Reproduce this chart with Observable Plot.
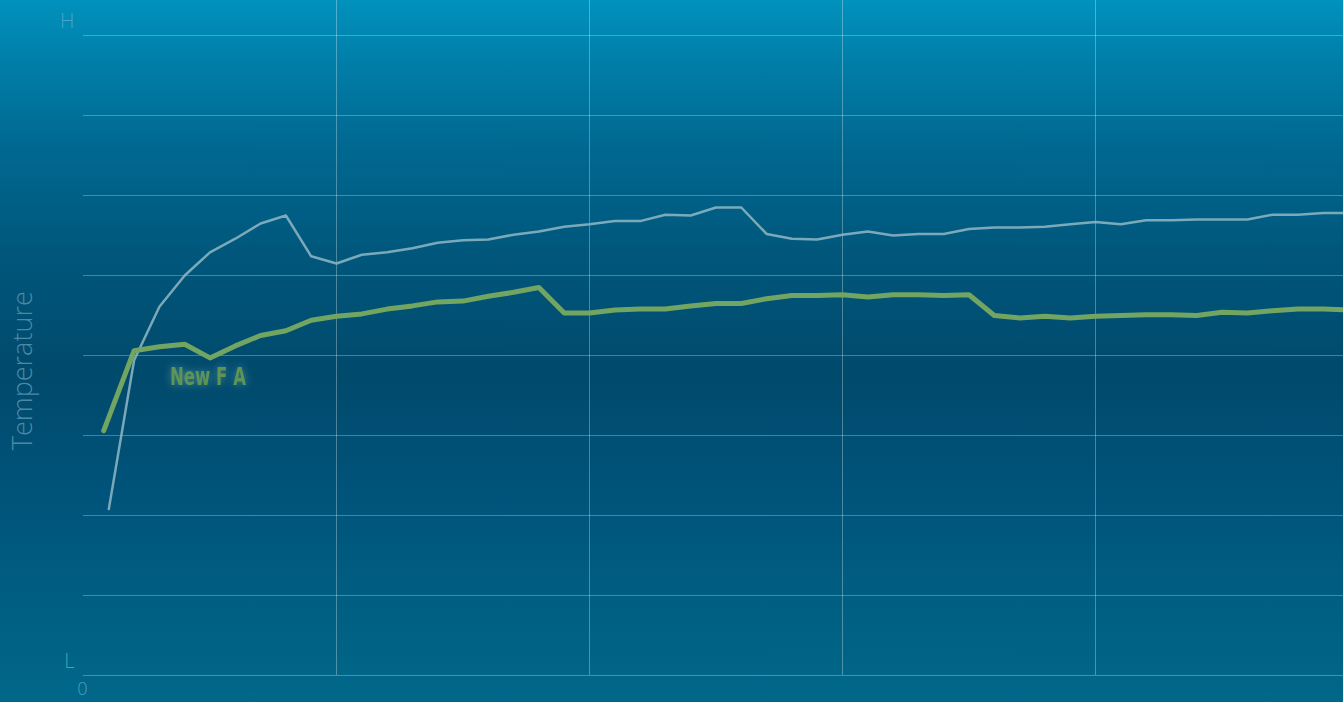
<!DOCTYPE html>
<html>
<head>
<meta charset="utf-8">
<script src="https://cdn.jsdelivr.net/npm/d3@7"></script>
<script src="https://cdn.jsdelivr.net/npm/@observablehq/plot@0.6"></script>
<style>
  html, body { margin: 0; padding: 0; overflow: hidden; }
  #wrap {
    width: 1343px; height: 702px; position: relative; overflow: hidden;
    background: linear-gradient(to bottom,
      #0092bd 0%, #0080aa 8%, #006a92 20%, #00587d 35%, #004a6c 53%,
      #00537a 70%, #005e82 85%, #00688a 100%);
  }
  #wrap svg { background: transparent !important; display: block; max-width: none !important; width: 1348px; height: 702px; }
  g[aria-label="glow-green"] { filter: blur(14px); }
  g[aria-label="glow-gray"] { filter: blur(12px); }
</style>
</head>
<body>
<div id="wrap"></div>
<script>
const grayX = [0.1,0.2,0.3,0.4,0.5,0.6,0.7,0.8,0.9,1.0,1.1,1.2,1.3,1.4,1.5,1.6,1.7,1.8,1.9,2.0,2.1,2.2,2.3,2.4,2.5,2.6,2.7,2.8,2.9,3.0,3.1,3.2,3.3,3.4,3.5,3.6,3.7,3.8,3.9,4.0,4.1,4.2,4.3,4.4,4.5,4.6,4.7,4.8,4.9,5.0];
const grayY = [2.08,3.94,4.61,5.0,5.29,5.46,5.65,5.75,5.24,5.15,
               5.26,5.29,5.34,5.41,5.44,5.45,5.51,5.55,5.61,5.64,
               5.68,5.68,5.76,5.75,5.85,5.85,5.52,5.46,5.45,5.51,
               5.55,5.50,5.52,5.52,5.58,5.60,5.60,5.61,5.64,5.67,
               5.64,5.69,5.69,5.70,5.70,5.70,5.76,5.76,5.78,5.78];
const greenX = [0.08,0.2,0.3,0.4,0.5,0.6,0.7,0.8,0.9,1.0,1.1,1.2,1.3,1.4,1.5,1.6,1.7,1.8,1.9,2.0,2.1,2.2,2.3,2.4,2.5,2.6,2.7,2.8,2.9,3.0,3.1,3.2,3.3,3.4,3.5,3.6,3.7,3.8,3.9,4.0,4.1,4.2,4.3,4.4,4.5,4.6,4.7,4.8,4.9,5.0];
const greenY = [3.06,4.06,4.11,4.14,3.97,4.12,4.25,4.31,4.44,4.49,
                4.52,4.58,4.62,4.67,4.68,4.74,4.79,4.85,4.53,4.53,
                4.57,4.58,4.58,4.62,4.65,4.65,4.71,4.75,4.75,4.76,
                4.73,4.76,4.76,4.75,4.76,4.50,4.47,4.49,4.47,4.49,
                4.50,4.51,4.51,4.50,4.54,4.53,4.56,4.58,4.58,4.57];
const yGrid = [0,1,2,3,4,5,6,7,8];
const xGrid = [1,2,3,4];
const yTicks = [0, 8];
const yTickLabels = ["L", "H"];
const xTicks = [0];
const seriesLabel = "New F A";
const yTitle = "Temperature";

const gray = grayX.map((x, i) => ({x, y: grayY[i]}));
const green = greenX.map((x, i) => ({x, y: greenY[i]}));

const chart = Plot.plot({
  width: 1348,
  height: 702,
  marginLeft: 83,
  marginRight: 0,
  marginTop: 0,
  marginBottom: 27,
  style: {background: "transparent", overflow: "visible"},
  x: {domain: [0, 5]},
  y: {domain: [0, 8.4375]},
  marks: [
    Plot.ruleY(yGrid, {stroke: "#ffffff", strokeOpacity: 0.28, strokeWidth: 1}),
    Plot.ruleX(xGrid, {stroke: "#ffffff", strokeOpacity: 0.3, strokeWidth: 1}),
    Plot.line(gray, {x: "x", y: "y", stroke: "#002e4a", strokeOpacity: 0.35, strokeWidth: 34, ariaLabel: "glow-gray"}),
    Plot.line(green, {x: "x", y: "y", stroke: "#5fb0c0", strokeOpacity: 0.3, strokeWidth: 38, ariaLabel: "glow-green"}),
    Plot.line(gray, {x: "x", y: "y", stroke: "#8fb8c4", strokeOpacity: 0.85, strokeWidth: 2.5, strokeLinejoin: "round"}),
    Plot.line(green, {x: "x", y: "y", stroke: "#72a462", strokeWidth: 5, strokeLinejoin: "round", strokeLinecap: "round"}),
    Plot.axisY(yTicks, {tickSize: 0, tickPadding: 9, dy: -14, tickFormat: d => yTickLabels[yTicks.indexOf(d)], fill: "#55aacb", fillOpacity: 0.85, fontSize: 20, fontFamily: "Open Sans", fontWeight: 300, label: null}),
    Plot.axisX(xTicks, {tickSize: 0, tickPadding: 7, tickFormat: d => String(d), fill: "#4a9ec0", fontSize: 18, fontFamily: "Open Sans", fontWeight: 300, label: null, dx: -1}),
    Plot.text([yTitle], {frameAnchor: "left", y: [3.81], text: d => d, rotate: -90, dx: -60, fill: "#4a8aa6", fontSize: 27, fontFamily: "Open Sans", fontWeight: 300, textAnchor: "middle"}),
    Plot.text([seriesLabel], {x: [greenX[4]], y: [greenY[4]], text: d => d, dy: 19, dx: -2, fill: "#5f9455", fontSize: 24, fontFamily: "DejaVu Sans Condensed, DejaVu Sans, sans-serif", fontWeight: "bold"})
  ]
});
d3.select(chart).selectAll("text")
  .filter(function () { return this.textContent === seriesLabel; })
  .attr("textLength", 76)
  .attr("lengthAdjust", "spacingAndGlyphs")
  .style("filter", "drop-shadow(0 0 4px rgba(140,200,190,0.5))");
document.getElementById("wrap").appendChild(chart);
</script>
</body>
</html>
